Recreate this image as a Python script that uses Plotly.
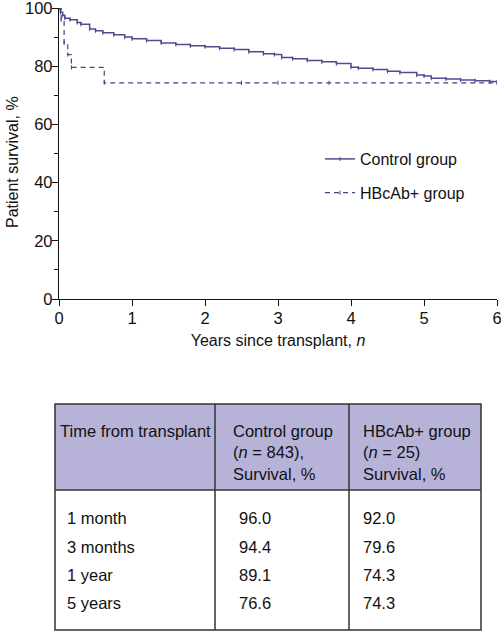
import plotly.graph_objects as go

W, H = 501, 631

# Kaplan-Meier curves
control_t = [0, 0.02, 0.05, 0.08, 0.15, 0.25, 0.3, 0.42, 0.5, 0.6, 0.75, 0.9, 1.0, 1.2, 1.4, 1.6,
             1.8, 2.0, 2.2, 2.4, 2.6, 2.8, 2.95, 3.05, 3.2, 3.4, 3.6, 3.8, 4.0, 4.1, 4.3, 4.5,
             4.67, 4.9, 5.0, 5.1, 5.3, 5.5, 5.7, 5.9, 6.0]
control_s = [100, 98.5, 97.5, 96.5, 96.0, 95.0, 94.4, 92.8, 92.2, 91.5, 90.8, 90.0, 89.4, 88.8, 88.0, 87.5,
             87.0, 86.7, 86.2, 85.7, 85.0, 84.3, 84.0, 83.0, 82.6, 82.0, 81.5, 80.9, 79.6, 79.3, 78.9, 78.3,
             77.8, 77.0, 76.6, 75.9, 75.6, 75.3, 75.0, 74.7, 74.5]

hbc_t = [0, 0.03, 0.07, 0.12, 0.17, 0.62, 2.5, 3.0, 3.7, 6.0]
hbc_s = [100, 96.0, 88.0, 84.0, 79.6, 74.3, 74.3, 74.3, 74.3, 74.3]

x_ticks = [0, 1, 2, 3, 4, 5, 6]
y_ticks = [0, 20, 40, 60, 80, 100]
y_minor = [10, 30, 50, 70, 90]

# Table
table_header = ["Time from transplant",
                "Control group<br>(<i>n</i> = 843),<br>Survival, %",
                "HBcAb+ group<br>(<i>n</i> = 25)<br>Survival, %"]
time_labels = ["1 month", "3 months", "1 year", "5 years"]
control_tab = ["96.0", "94.4", "89.1", "76.6"]
hbc_tab = ["92.0", "79.6", "74.3", "74.3"]

FONT = "Liberation Sans, Arial, sans-serif"
LINE_C = "#4d4d8e"
HBC_C = "#45457f"

def px(x):
    return x / W

def py(y):
    return 1 - y / H

fig = go.Figure()
fig.add_trace(go.Scatter(
    x=control_t, y=control_s, mode="lines+markers", line_shape="hv",
    line=dict(color=LINE_C, width=1.5),
    marker=dict(symbol="line-ns-open", size=3, line=dict(color=LINE_C, width=1)),
    name="Control group", legendgroup="a"))
fig.add_trace(go.Scatter(
    x=hbc_t, y=hbc_s, mode="lines+markers", line_shape="hv",
    line=dict(color=HBC_C, width=1.2, dash="5px,4px"),
    marker=dict(symbol="line-ns-open", size=3, line=dict(color=HBC_C, width=1)),
    name="HBcAb+ group", legendgroup="b"))

# Table shapes
tx0, tx1, ty0, ty1, hy = 55, 481, 404, 630, 490
c1, c2 = 215, 349
shapes = [
    dict(type="rect", xref="paper", yref="paper", x0=px(tx0), x1=px(tx1), y0=py(hy), y1=py(ty0),
         fillcolor="#b7b2d8", line=dict(width=0), layer="below"),
    dict(type="rect", xref="paper", yref="paper", x0=px(tx0), x1=px(tx1), y0=py(ty1), y1=py(ty0),
         fillcolor="rgba(0,0,0,0)", line=dict(color="#333333", width=1.5)),
    dict(type="line", xref="paper", yref="paper", x0=px(tx0), x1=px(tx1), y0=py(hy), y1=py(hy),
         line=dict(color="#333333", width=1.5)),
    dict(type="line", xref="paper", yref="paper", x0=px(c1), x1=px(c1), y0=py(ty1), y1=py(ty0),
         line=dict(color="#333333", width=1.5)),
    dict(type="line", xref="paper", yref="paper", x0=px(c2), x1=px(c2), y0=py(ty1), y1=py(ty0),
         line=dict(color="#333333", width=1.5)),
]

ann = []
hx = [58, 231, 361]
for i, t in enumerate(table_header):
    ann.append(dict(x=px(hx[i]), y=py(420), xref="paper", yref="paper", text=t, showarrow=False,
                    xanchor="left", yanchor="top", align="left",
                    font=dict(size=16.5, color="#111111", family=FONT)))
rows_y = [518, 547, 575, 603]
bx = [65, 237, 361]
for r, yy in enumerate(rows_y):
    for c, col in enumerate([time_labels, control_tab, hbc_tab]):
        ann.append(dict(x=px(bx[c]), y=py(yy), xref="paper", yref="paper", text=col[r], showarrow=False,
                        xanchor="left", yanchor="middle",
                        font=dict(size=16.5, color="#111111", family=FONT)))

# y-axis title as rotated annotation
ann.append(dict(x=px(12), y=py(162), xref="paper", yref="paper", text="Patient survival, %",
                showarrow=False, textangle=-90, xanchor="center", yanchor="middle",
                font=dict(size=16, color="#111111", family=FONT)))

fig.update_layout(
    width=W, height=H, margin=dict(l=0, r=0, t=0, b=0),
    paper_bgcolor="white", plot_bgcolor="white",
    font=dict(family=FONT, size=16, color="#111111"),
    shapes=shapes, annotations=ann,
    showlegend=True,
    legend=dict(x=px(320), y=py(142), xanchor="left", yanchor="top",
                font=dict(size=16, family=FONT), tracegroupgap=10, traceorder="grouped",
                bgcolor="rgba(0,0,0,0)", itemwidth=30),
    xaxis=dict(domain=[px(59), px(497)], range=[0, 6], tickvals=x_ticks,
               showgrid=False, zeroline=False, showline=True, linecolor="#111111", linewidth=1.3,
               ticks="outside", ticklen=6, tickcolor="#111111", tickwidth=1.3,
               tickfont=dict(size=16.5), automargin=False, ticklabeloverflow="allow",
               ticklabelstandoff=-2,
               title=dict(text="Years since transplant, <i>n</i>", font=dict(size=16), standoff=8),
               anchor="y"),
    yaxis=dict(domain=[py(299), py(8)], range=[0, 100], tickvals=y_ticks,
               showgrid=False, zeroline=False, showline=True, linecolor="#111111", linewidth=1.3,
               ticks="outside", ticklen=6, tickcolor="#111111", tickwidth=1.3,
               tickfont=dict(size=16.5), automargin=False, ticklabeloverflow="allow",
               ticklabelstandoff=-4,
               minor=dict(tickvals=y_minor, ticks="outside", ticklen=4,
                          tickcolor="#111111", tickwidth=1.3, showgrid=False),
               anchor="x"),
)

fig.write_html("out.html", config={"displayModeBar": False},
               post_script="document.body.style.margin='0';")
